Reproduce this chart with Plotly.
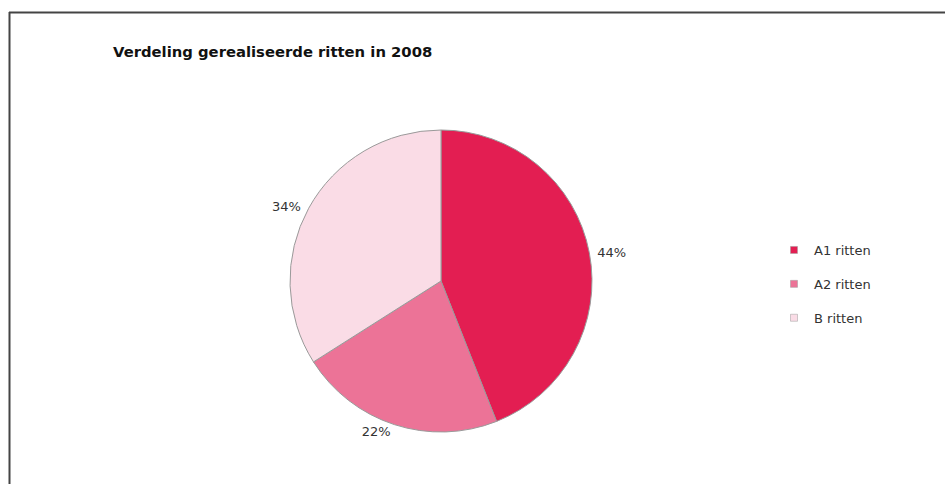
import plotly.graph_objects as go

# Distribution of realised trips in 2008 (share in %)
categories = ["A1 ritten", "A2 ritten", "B ritten"]
shares = [44, 22, 34]
colors = ["#E31E52", "#EC7397", "#FADCE6"]

W, H = 945, 484
FONT = "DejaVu Sans"
NB = "\u00a0"

fig = go.Figure()

fig.add_trace(go.Pie(
    labels=categories,
    values=shares,
    sort=False,
    direction="clockwise",
    rotation=0,
    marker=dict(colors=colors, line=dict(color="#9a9a9a", width=1)),
    textinfo="percent",
    # a little extra room between the outside labels and the pie rim
    texttemplate=[NB + "%{percent:.0%}",
                  "%{percent:.0%}",
                  "%{percent:.0%}" + NB],
    textposition="outside",
    outsidetextfont=dict(family=FONT, size=13, color="#333333"),
    showlegend=False,
    hoverinfo="label+percent",
    domain=dict(x=[(441 - 151) / W, (441 + 151) / W],
                y=[(H - 281 - 151) / H, (H - 281 + 151) / H]),
))

# legend entries, one group per category so they can be spaced apart
for name, col in zip(categories, colors):
    fig.add_trace(go.Scatter(
        x=[None], y=[None], mode="markers", name=name,
        legendgroup=name,
        marker=dict(symbol="square", size=7, color=col,
                    line=dict(color="#9a9a9a", width=0.5)),
    ))

fig.update_layout(
    width=W, height=H,
    margin=dict(l=0, r=0, t=0, b=0),
    paper_bgcolor="white",
    plot_bgcolor="white",
    font=dict(family=FONT, size=13, color="#333333"),
    xaxis=dict(visible=False),
    yaxis=dict(visible=False),
    title=dict(text="<b>Verdeling gerealiseerde ritten in 2008</b>",
               x=113 / W, xanchor="left", y=1 - 52 / H, yanchor="middle",
               font=dict(family=FONT, size=14.8, color="#111111")),
    legend=dict(x=774 / W, xanchor="left", y=1 - 235 / H, yanchor="top",
                tracegroupgap=14, itemwidth=30,
                font=dict(family=FONT, size=13, color="#333333"),
                bgcolor="rgba(0,0,0,0)"),
    shapes=[
        dict(type="line", xref="paper", yref="paper",
             x0=9 / W, x1=1, y0=1 - 12.5 / H, y1=1 - 12.5 / H,
             line=dict(color="#444444", width=2)),
        dict(type="line", xref="paper", yref="paper",
             x0=9.5 / W, x1=9.5 / W, y0=0, y1=1 - 12 / H,
             line=dict(color="#444444", width=2)),
    ],
)

fig.write_html("out.html")
